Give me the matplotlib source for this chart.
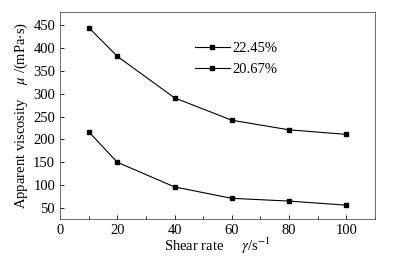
import matplotlib.pyplot as plt
from matplotlib.ticker import MultipleLocator

plt.rcParams['font.family'] = 'Liberation Serif'
plt.rcParams['mathtext.fontset'] = 'stix'

shear_rate = [10, 20, 40, 60, 80, 100]
visc_2245 = [445, 382, 291, 242, 221, 211]
visc_2067 = [217, 150, 96, 71, 65, 56]
labels = ['22.45%', '20.67%']

fig = plt.figure(figsize=(3.95, 2.56), dpi=100)
ax = fig.add_axes([0.152, 0.145, 0.797, 0.81])

for y, lab in zip([visc_2245, visc_2067], labels):
    ax.plot(shear_rate, y, color='black', lw=0.8, marker='s', ms=3.5, label=lab)

ax.set_xlim(0, 110)
ax.set_ylim(26, 480)
ax.set_xticks([0, 20, 40, 60, 80, 100])
ax.set_yticks(range(50, 451, 50))
ax.xaxis.set_minor_locator(MultipleLocator(10))
ax.tick_params(direction='in', labelsize=10.5, length=3, width=0.6, top=False, right=False)
ax.tick_params(which='minor', direction='in', length=2, width=0.6)
for s in ax.spines.values():
    s.set_linewidth(0.6)
    s.set_color('#555555')

ax.set_xlabel(r'Shear rate     $\gamma$/s$^{-1}$', fontsize=10.5, labelpad=-1)
ax.set_ylabel(r'Apparent viscosity    $\mu$ /(mPa$\cdot$s)', fontsize=10.5, labelpad=2)

ax.legend(loc='upper left', bbox_to_anchor=(0.405, 0.89), frameon=False, fontsize=10.5,
          handlelength=2.4, handletextpad=0.2, labelspacing=0.55, borderpad=0)

fig.savefig('out.png', dpi=100)
